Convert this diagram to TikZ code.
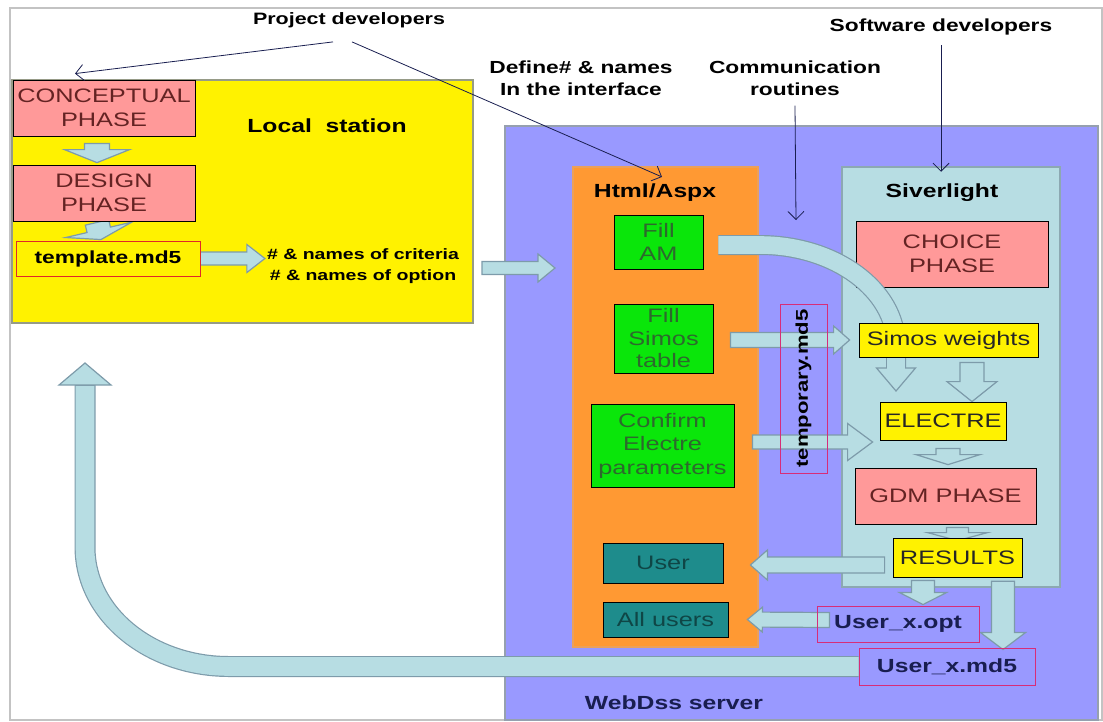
\documentclass[tikz,border=0pt]{standalone}
\usepackage{fontspec}
\setmainfont{Liberation Sans}[FakeStretch=1.3]
\usetikzlibrary{calc,arrows.meta}
\pgfdeclarelayer{bg}
\pgfdeclarelayer{mid}
\pgfsetlayers{bg,mid,main}

\definecolor{framegray}{RGB}{195,195,195}
\definecolor{lsborder}{RGB}{150,155,135}
\definecolor{srvpurple}{RGB}{153,153,255}
\definecolor{srvborder}{RGB}{150,160,175}
\definecolor{htmlorange}{RGB}{255,153,51}
\definecolor{htmlborder}{RGB}{235,160,90}
\definecolor{silblue}{RGB}{183,221,227}
\definecolor{silborder}{RGB}{140,168,178}
\definecolor{arrowfill}{RGB}{183,221,227}
\definecolor{arrowline}{RGB}{125,155,170}
\definecolor{phasepink}{RGB}{255,153,153}
\definecolor{phasetext}{RGB}{100,35,35}
\definecolor{fillgreen}{RGB}{10,230,10}
\definecolor{greentext}{RGB}{45,105,45}
\definecolor{userteal}{RGB}{30,140,140}
\definecolor{tealtext}{RGB}{15,70,70}
\definecolor{filered}{RGB}{215,45,120}
\definecolor{tplred}{RGB}{225,40,40}
\definecolor{notenavy}{RGB}{25,30,80}

\tikzset{blockarr/.style={draw=arrowline,fill=arrowfill,line width=1.2pt}}

% fat arrow: start, tip, half stem, half head, head length
\newcommand\blockarrow[5]{%
  \coordinate (ba-s) at (#1);
  \coordinate (ba-t) at (#2);
  \coordinate (ba-c) at ($(ba-t)!#5!(ba-s)$);
  \draw[blockarr] ($(ba-s)!#3!90:(ba-t)$) -- ($(ba-c)!#3!90:(ba-t)$)
    -- ($(ba-c)!#4!90:(ba-t)$) -- (ba-t) -- ($(ba-c)!#4!-90:(ba-t)$)
    -- ($(ba-c)!#3!-90:(ba-t)$) -- ($(ba-s)!#3!-90:(ba-t)$) -- cycle;}

\begin{document}
\begin{tikzpicture}[x=1pt,y=-1pt,
  box/.style={draw=black,line width=0.8pt,align=center,inner sep=1pt,
    font=\fontsize{19.5}{23.5}\selectfont},
  phase/.style={box,fill=phasepink,text=phasetext},
  ybox/.style={box,fill=yellow,text=black!85},
  gbox/.style={box,fill=fillgreen,text=greentext},
  tbox/.style={box,fill=userteal,text=tealtext},
  file/.style={draw=filered,line width=0.9pt,inner sep=1pt,
    font=\bfseries\fontsize{19}{23}\selectfont,text=notenavy},
  lbl/.style={inner sep=2pt,align=center,font=\bfseries\fontsize{19}{23}\selectfont},
  note/.style={inner sep=2pt,align=center,font=\bfseries\fontsize{17.5}{22}\selectfont},
  area/.style={line width=2.5pt,inner sep=0pt},
  pointer/.style={draw=notenavy,line width=0.8pt,-{Straight Barb[length=8pt,width=16pt]}}]
\useasboundingbox (0,0) rectangle (1103,721);

% containers
\begin{pgfonlayer}{bg}
  \draw[framegray,line width=1.2pt] (10,8) rectangle (1102,720);
  \node[area,draw=lsborder,fill=yellow,minimum width=461pt,minimum height=243pt] (lsbox) at (242.5,201.5) {};
  \node[area,draw=srvborder,fill=srvpurple,minimum width=593pt,minimum height=594pt] (srv) at (801.5,423) {};
  \node[area,draw=htmlborder,line width=1.5pt,fill=htmlorange,minimum width=185pt,minimum height=480pt] (htmlbox) at (665.5,407) {};
  \node[area,draw=silborder,fill=silblue,minimum width=218pt,minimum height=420pt] (silbox) at (951,377) {};
\end{pgfonlayer}

% labels
\node[note,font=\bfseries\fontsize{16.5}{20}\selectfont] (pd) at (349,20) {Project developers};
\node[lbl] (local) at (327,126) {Local~~station};
\node[note] (define) at (581,78) {Define\# \& names\\In the interface};
\node[note] (comm) at (795,78) {Communication\\routines};
\node[note] (sd) at (941,27) {Software developers};
\node[lbl] (html) at (655,193) {Html/Aspx};
\node[lbl] (sil) at (942,193) {Siverlight};
\node[lbl,text=notenavy] (web) at (674,703) {WebDss server};
\node[note,font=\bfseries\fontsize{15}{21}\selectfont] (crit) at (363,266.5) {\# \& names of criteria\\\# \& names of option};

% local station
\node[phase,minimum width=182pt,minimum height=56pt] (conc) at (104,108) {CONCEPTUAL\\PHASE};
\node[phase,minimum width=182pt,minimum height=56pt] (design) at (104,193) {DESIGN\\PHASE};
\node[file,draw=tplred,fill=yellow,text=black,font=\bfseries\fontsize{17.5}{21}\selectfont,
  minimum width=184pt,minimum height=35pt] (tpl) at (108,258.5) {template.md5};

% html/aspx
\node[gbox,minimum width=89pt,minimum height=54pt] (fillam) at (658.5,242) {Fill\\AM};
\node[gbox,font=\fontsize{19.5}{22.5}\selectfont,minimum width=99pt,minimum height=69pt] (simtab) at (663.5,338.5) {Fill\\Simos\\table};
\node[gbox,minimum width=143pt,minimum height=83pt] (confirm) at (662.5,445.5) {Confirm\\Electre\\parameters};
\node[tbox,minimum width=120pt,minimum height=40pt] (user) at (663,563) {User};
\node[tbox,minimum width=125pt,minimum height=35pt] (allusers) at (665.5,619.5) {All users};

% siverlight
\node[ybox,minimum width=179pt,minimum height=34pt] (simw) at (948.5,340) {Simos weights};
\node[ybox,minimum width=126pt,minimum height=38pt] (electre) at (943,421) {ELECTRE};
\node[phase,minimum width=181pt,minimum height=56pt] (gdm) at (945.5,496) {GDM PHASE};
\node[ybox,minimum width=129pt,minimum height=39pt] (results) at (957.5,557.5) {RESULTS};
\node[file,minimum width=162pt,minimum height=36pt] (uopt) at (898,624) {User\_x.opt};
\node[file,minimum width=176pt,minimum height=37pt] (umd5) at (947,666.5) {User\_x.md5};
\node[file,rotate=90,text=black,font=\bfseries\fontsize{17}{20}\selectfont,
  minimum width=169pt,minimum height=47pt] (tmp) at (803.5,388.5) {temporary.md5};

\coordinate (lsout) at (482,268);
\coordinate (htmlin) at (555,268);
\coordinate (back) at (85,363);
\coordinate (amtip) at (896,391);
\coordinate (commtip) at (796,220);

\begin{pgfonlayer}{mid}
  \blockarrow{[xshift=-7pt,yshift=-7pt]conc.south}{[xshift=-7pt,yshift=2pt]design.north}{12.5pt}{32.5pt}{13pt}
  \blockarrow{[xshift=-7pt,yshift=-1pt]design.south}{[xshift=-7pt,yshift=1pt]tpl.north}{12pt}{34pt}{10pt}
  \blockarrow{[xshift=-7pt]tpl.east}{crit.west |- tpl.east}{6.5pt}{14pt}{18pt}
  \blockarrow{lsout}{htmlin}{6.5pt}{14pt}{17pt}
  % back to the local station
  \draw[arrowline,line width=21pt] (umd5.west) -- (229,666.5)
    .. controls (150,666.5) and (85,614) .. (85,547) -- (85,385);
  \draw[blockarr] (59,385) -- (back) -- (111,385) -- cycle;
  \draw[arrowfill,line width=18.6pt] (umd5.west) -- (229,666.5)
    .. controls (150,666.5) and (85,614) .. (85,547) -- (85,386);
  \node[phase,minimum width=192pt,minimum height=66pt] (choice) at (952,254) {CHOICE\\PHASE};
  % fill AM to electre
  \draw[arrowline,line width=20pt] ([xshift=15pt,yshift=-3pt]fillam.east) -- (760,245)
    .. controls (835,245) and (896,290) .. (896,345) -- (896,368);
  \draw[blockarr] (876.5,368) -- (amtip) -- (915.5,368) -- cycle;
  \draw[arrowfill,line width=17.6pt] ([xshift=15pt,yshift=-3pt]fillam.east) -- (760,245)
    .. controls (835,245) and (896,290) .. (896,345) -- (896,369);
  \blockarrow{[xshift=17pt]simtab.east |- simw.west}{[xshift=-9pt]simw.west}{7.5pt}{14pt}{16pt}
  \blockarrow{[xshift=18pt,yshift=3.5pt]confirm.east}{[xshift=-7pt,yshift=3.5pt]electre.west |- confirm.east}{7pt}{18.5pt}{25pt}
  \blockarrow{[xshift=23.5pt,yshift=-5pt]simw.south}{[xshift=29pt]electre.north}{12pt}{25pt}{20pt}
  \blockarrow{[xshift=5pt,yshift=-8pt]electre.south}{[xshift=2.5pt,yshift=3pt]gdm.north}{12pt}{32pt}{10pt}
  \blockarrow{[xshift=12pt,yshift=-3pt]gdm.south}{[yshift=-3pt]results.north}{11pt}{30pt}{8pt}
  \blockarrow{[xshift=-8pt,yshift=-2pt]results.west |- user.east}{[xshift=27pt,yshift=-2pt]user.east}{8pt}{15pt}{17pt}
  \blockarrow{[xshift=-34.5pt,yshift=-3pt]results.south}{[xshift=25pt,yshift=1pt]uopt.north}{11.5pt}{23.5pt}{12pt}
  \blockarrow{[xshift=52pt,yshift=7pt]silbox.south}{[xshift=56pt,yshift=-2pt]umd5.north}{11.5pt}{22.5pt}{17pt}
  \blockarrow{[xshift=13pt,yshift=4pt]uopt.west}{[xshift=19pt]allusers.east}{7.5pt}{12.5pt}{15pt}
\end{pgfonlayer}

% who does what
\draw[pointer] ([xshift=-16pt,yshift=-12pt]pd.south) -- ([xshift=-29pt,yshift=6pt]conc.north);
\draw[pointer] ([xshift=3pt,yshift=-12pt]pd.south) -- ([xshift=7pt,yshift=5pt]html.north);
\draw[pointer] ([yshift=-8pt]comm.south) -- (commtip);
\draw[pointer] ([yshift=-8pt]sd.south) -- ([yshift=-6pt]sd.south |- silbox.north);
\end{tikzpicture}
\end{document}
